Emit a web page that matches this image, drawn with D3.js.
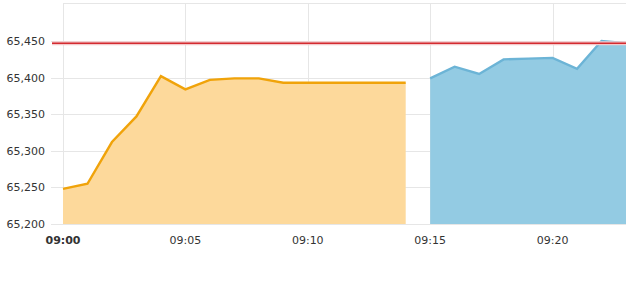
<!DOCTYPE html>
<html>
<head>
<meta charset="utf-8">
<script src="https://cdn.jsdelivr.net/npm/d3@7"></script>
<style>
  body { margin: 0; background: #fff; }
  svg { display: block; font-family: "DejaVu Sans", Verdana, sans-serif; }
  .grid line { stroke: #e6e6e6; shape-rendering: crispEdges; }
  .y-label { font-size: 11px; fill: #333; }
  .x-label { font-size: 11px; fill: #333; }
</style>
</head>
<body>
<div id="chart"></div>
<script>
// data
const earlyTimes = ['09:00', '09:01', '09:02', '09:03', '09:04', '09:05', '09:06', '09:07',
  '09:08', '09:09', '09:10', '09:11', '09:12', '09:13', '09:14']
const earlyValues = [65248, 65255, 65312, 65347, 65402, 65384, 65397, 65399,
  65399, 65393, 65393, 65393, 65393, 65393, 65393]
const lateTimes = ['09:15', '09:16', '09:17', '09:18', '09:19', '09:20', '09:21', '09:22', '09:23']
const lateValues = [65399, 65415, 65405, 65425, 65426, 65427, 65412, 65450, 65447]
const refLevel = 65447
const yTicks = [65200, 65250, 65300, 65350, 65400, 65450]
const xTicks = ['09:00', '09:05', '09:10', '09:15', '09:20']

const width = 626
const height = 286
const marginLeft = 63
const marginTop = 3
const plotBottom = 224

const parseTime = d3.timeParse('%H:%M')
const fmtNum = d3.format(',')

const early = earlyTimes.map((t, i) => ({ t: parseTime(t), v: earlyValues[i] }))
const late = lateTimes.map((t, i) => ({ t: parseTime(t), v: lateValues[i] }))

const scaleX = d3.scaleTime()
  .domain([parseTime('09:00'), parseTime('09:23')])
  .range([marginLeft, width])
const scaleY = d3.scaleLinear()
  .domain([65200, 65502])
  .range([plotBottom, marginTop])

const $svg = d3.select('#chart').append('svg')
  .attr('width', width)
  .attr('height', height)

// grid
const $grid = $svg.append('g').attr('class', 'grid')
$grid.selectAll('.h')
  .data(yTicks)
  .enter().append('line')
  .attr('x1', 51).attr('x2', width)
  .attr('y1', d => Math.round(scaleY(d)) + 0.5)
  .attr('y2', d => Math.round(scaleY(d)) + 0.5)
$grid.append('line')
  .attr('x1', marginLeft).attr('x2', width)
  .attr('y1', marginTop + 0.5).attr('y2', marginTop + 0.5)
$grid.selectAll('.v')
  .data(xTicks)
  .enter().append('line')
  .attr('x1', d => Math.round(scaleX(parseTime(d))) + 0.5)
  .attr('x2', d => Math.round(scaleX(parseTime(d))) + 0.5)
  .attr('y1', marginTop).attr('y2', plotBottom)

// areas
const area = d3.area()
  .x(d => scaleX(d.t))
  .y0(scaleY(65200))
  .y1(d => scaleY(d.v))
const line = d3.line()
  .x(d => scaleX(d.t))
  .y(d => scaleY(d.v))

$svg.append('path').datum(early)
  .attr('d', area)
  .attr('fill', '#fdd99b')
$svg.append('path').datum(early)
  .attr('d', line)
  .attr('fill', 'none')
  .attr('stroke', '#f0a30a')
  .attr('stroke-width', 2.4)

$svg.append('path').datum(late)
  .attr('d', area)
  .attr('fill', '#93cbe3')
$svg.append('path').datum(late)
  .attr('d', line)
  .attr('fill', 'none')
  .attr('stroke', '#6cb4d6')
  .attr('stroke-width', 2.4)

// reference line
$svg.append('line')
  .attr('x1', 52).attr('x2', width)
  .attr('y1', scaleY(refLevel)).attr('y2', scaleY(refLevel))
  .attr('stroke', '#f3c9cb')
  .attr('stroke-width', 4)
$svg.append('line')
  .attr('x1', 52).attr('x2', width)
  .attr('y1', scaleY(refLevel)).attr('y2', scaleY(refLevel))
  .attr('stroke', '#d42b30')
  .attr('stroke-width', 1.6)

// y labels
$svg.selectAll('.y-label')
  .data(yTicks)
  .enter().append('text')
  .attr('class', 'y-label')
  .attr('x', 45)
  .attr('y', d => scaleY(d) + 4)
  .attr('text-anchor', 'end')
  .text(d => fmtNum(d))

// x labels
$svg.selectAll('.x-label')
  .data(xTicks)
  .enter().append('text')
  .attr('class', 'x-label')
  .attr('x', d => scaleX(parseTime(d)))
  .attr('y', 244)
  .attr('text-anchor', 'middle')
  .style('font-weight', (d, i) => i === 0 ? 'bold' : 'normal')
  .text(d => d)
</script>
</body>
</html>
